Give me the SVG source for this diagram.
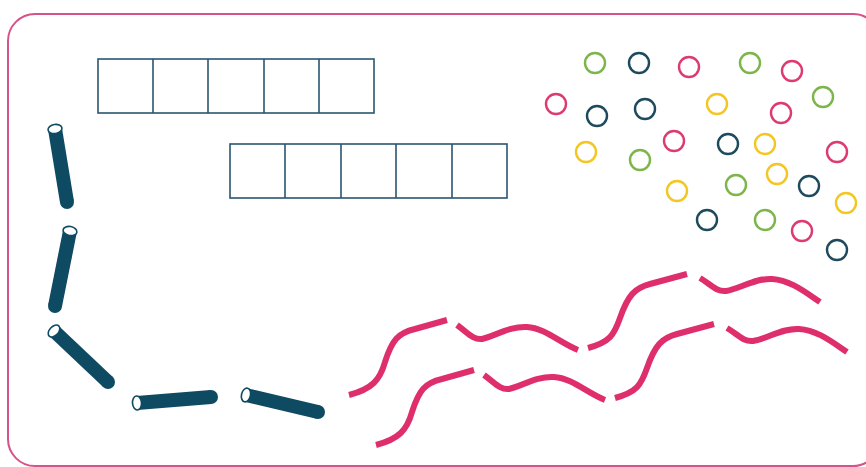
<svg xmlns="http://www.w3.org/2000/svg" width="866" height="467" viewBox="0 0 866 467">
<defs>
<style>
.frame{fill:#fff;stroke:#d6538a;stroke-width:2}
.cell{fill:none;stroke:#2a5670;stroke-width:1.6}
.c{fill:none;stroke-width:2.4}
.pk{stroke:#dd3a74}.gr{stroke:#7cb54a}.dk{stroke:#1d4a5c}.yl{stroke:#f3c623}
.tube{stroke:#0f4a63;stroke-width:14;stroke-linecap:butt;fill:none}
.cap{fill:#0f4a63}
.end{fill:#fff;stroke:#0f4a63;stroke-width:1.6}
.wave{fill:none;stroke:#df2e6c;stroke-width:6}
</style>
</defs>
<rect class="frame" x="8" y="14" width="872" height="452" rx="27"/>
<g id="grid1">
<rect class="cell" x="98" y="59" width="276" height="54"/>
<path class="cell" d="M153,59V113M208,59V113M264,59V113M319,59V113"/>
</g>
<g id="grid2">
<rect class="cell" x="230" y="144" width="277" height="54"/>
<path class="cell" d="M285,144V198M341,144V198M396,144V198M452,144V198"/>
</g>
<g id="circles">
<circle class="c gr" cx="595" cy="63" r="10"/>
<circle class="c dk" cx="639" cy="63" r="10"/>
<circle class="c pk" cx="689" cy="67" r="10"/>
<circle class="c gr" cx="750" cy="63" r="10"/>
<circle class="c pk" cx="792" cy="71" r="10"/>
<circle class="c pk" cx="556" cy="104" r="10"/>
<circle class="c dk" cx="597" cy="116" r="10"/>
<circle class="c dk" cx="645" cy="109" r="10"/>
<circle class="c yl" cx="717" cy="104" r="10"/>
<circle class="c pk" cx="781" cy="113" r="10"/>
<circle class="c gr" cx="823" cy="97" r="10"/>
<circle class="c yl" cx="586" cy="152" r="10"/>
<circle class="c gr" cx="640" cy="160" r="10"/>
<circle class="c pk" cx="674" cy="141" r="10"/>
<circle class="c dk" cx="728" cy="144" r="10"/>
<circle class="c yl" cx="765" cy="144" r="10"/>
<circle class="c pk" cx="837" cy="152" r="10"/>
<circle class="c yl" cx="677" cy="191" r="10"/>
<circle class="c gr" cx="736" cy="185" r="10"/>
<circle class="c yl" cx="777" cy="174" r="10"/>
<circle class="c dk" cx="809" cy="186" r="10"/>
<circle class="c yl" cx="846" cy="203" r="10"/>
<circle class="c dk" cx="707" cy="220" r="10"/>
<circle class="c gr" cx="765" cy="220" r="10"/>
<circle class="c pk" cx="802" cy="231" r="10"/>
<circle class="c dk" cx="837" cy="250" r="10"/>
</g>
<g id="tubes">
<g id="tube1">
<line class="tube" x1="55" y1="129" x2="67" y2="202"/>
<circle class="cap" cx="67" cy="202" r="7"/>
<ellipse class="end" cx="55" cy="129" rx="7" ry="4.5" transform="rotate(-9 55 129)"/>
</g>
<g id="tube2">
<line class="tube" x1="70" y1="231" x2="55" y2="306"/>
<circle class="cap" cx="55" cy="306" r="7"/>
<ellipse class="end" cx="70" cy="231" rx="7" ry="4.5" transform="rotate(11 70 231)"/>
</g>
<g id="tube3">
<line class="tube" x1="54" y1="331" x2="108" y2="382"/>
<circle class="cap" cx="108" cy="382" r="7"/>
<ellipse class="end" cx="54" cy="331" rx="7" ry="4.5" transform="rotate(-47 54 331)"/>
</g>
<g id="tube4">
<line class="tube" x1="137" y1="403" x2="211" y2="397"/>
<circle class="cap" cx="211" cy="397" r="7"/>
<ellipse class="end" cx="137" cy="403" rx="4.5" ry="7" transform="rotate(-5 137 403)"/>
</g>
<g id="tube5">
<line class="tube" x1="246" y1="395" x2="318" y2="412"/>
<circle class="cap" cx="318" cy="412" r="7"/>
<ellipse class="end" cx="246" cy="395" rx="4.5" ry="7" transform="rotate(13 246 395)"/>
</g>
</g>
<g id="waves">
<g id="wave1">
<path class="wave" d="M349,395 C372,389 380,380 385,362 C392,340 398,333 415,329 L447,320"/>
<path class="wave" d="M457,325 C468,333 473,340 482,339 C495,336 510,326 527,327 C545,328 560,343 578,350"/>
<path class="wave" d="M588,348 C610,342 614,335 620,318 C628,295 635,288 650,284 L687,274"/>
<path class="wave" d="M700,278 C712,285 716,292 726,291 C740,289 755,278 772,279 C790,280 805,292 820,302"/>
</g>
<use href="#wave1" transform="translate(27,50)"/>
</g>
</svg>
